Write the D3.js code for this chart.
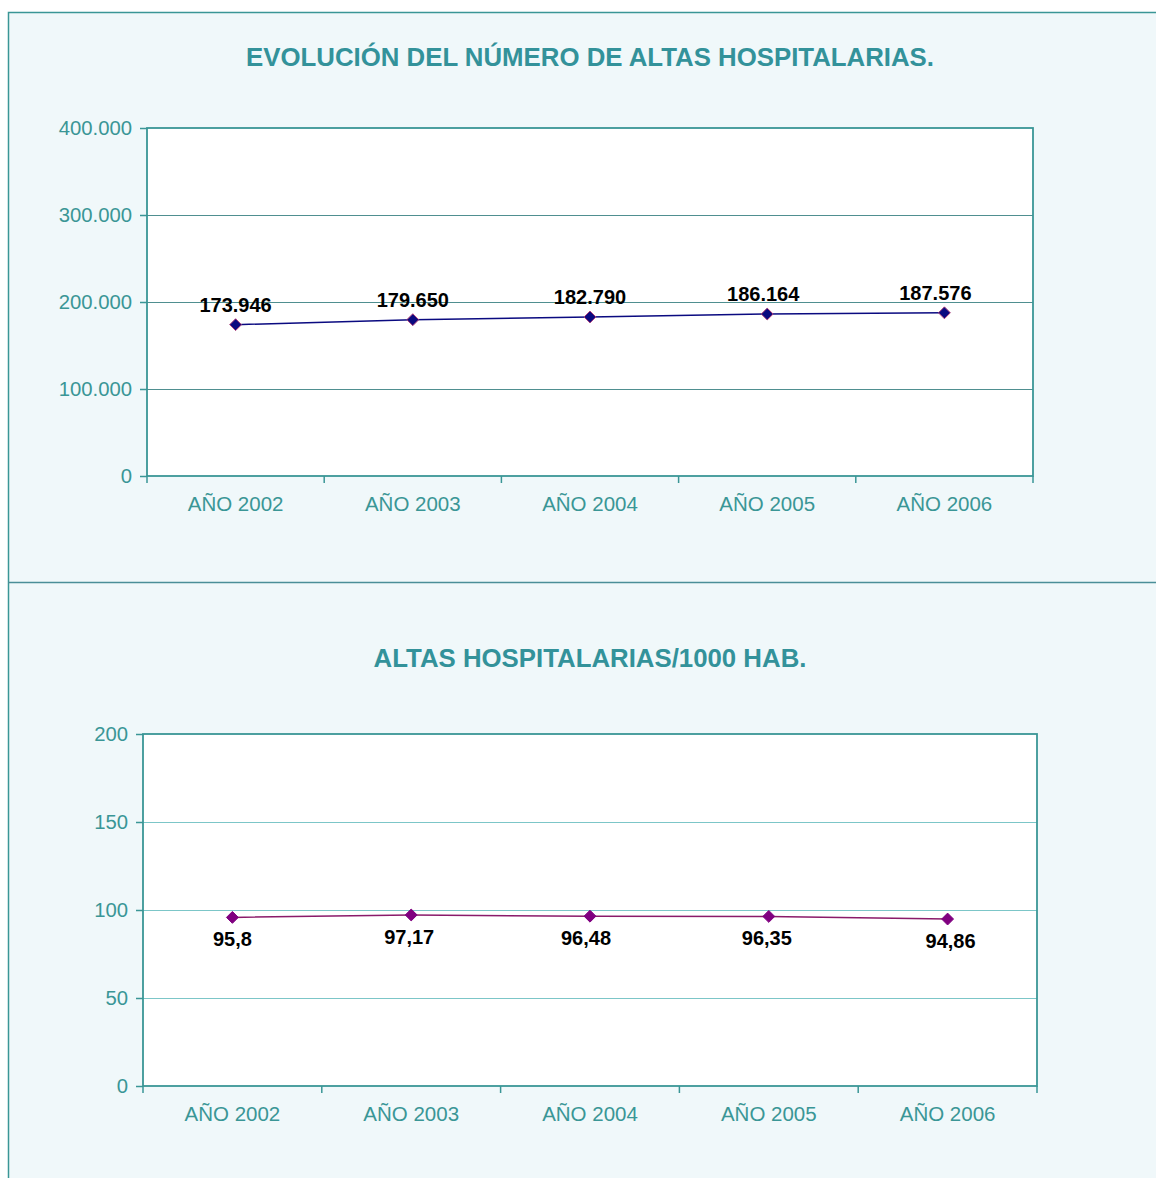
<!DOCTYPE html>
<html><head><meta charset="utf-8">
<script src="https://cdn.jsdelivr.net/npm/d3@7"></script>
<style>body{margin:0;background:#fff;}svg{display:block;font-family:"Liberation Sans",Arial,sans-serif;}</style>
</head><body>
<svg id="c" width="1156" height="1178"></svg>
<script>
const categories = ["AÑO 2002","AÑO 2003","AÑO 2004","AÑO 2005","AÑO 2006"];
const altas = [173946,179650,182790,186164,187576];
const altasPorMil = [95.8,97.17,96.48,96.35,94.86];
const ticks1 = [0,100000,200000,300000,400000];
const ticks2 = [0,50,100,150,200];
const title1 = "EVOLUCIÓN DEL NÚMERO DE ALTAS HOSPITALARIAS.";
const title2 = "ALTAS HOSPITALARIAS/1000 HAB.";

const es = d3.formatLocale({decimal:",",thousands:".",grouping:[3],currency:["","€"]});
const fmtThousands = es.format(",d");
const fmtDec = v => String(v).replace(".", ",");

const teal = "#3a9696";
const titleColor = "#33929a";
const svg = d3.select("#c");

// panels
svg.append("rect").attr("x",8.5).attr("y",12.5).attr("width",1160).attr("height",1180)
  .attr("fill","#f0f8fa").attr("stroke",teal).attr("stroke-width",1.5);
svg.append("line").attr("x1",8).attr("x2",1156).attr("y1",582.5).attr("y2",582.5)
  .attr("stroke","#4a8e98").attr("stroke-width",1.5);

function chart(o){
  const g = svg.append("g");
  const x = d3.scaleBand().domain(categories).range([o.x0,o.x1]);
  const y = d3.scaleLinear().domain([0,o.max]).range([o.y1,o.y0]);
  g.append("text").attr("x",590).attr("y",o.titleY).attr("text-anchor","middle")
    .attr("font-size",25.8).attr("font-weight","bold").attr("fill",titleColor).text(o.title);
  g.append("rect").attr("x",o.x0).attr("y",o.y0).attr("width",o.x1-o.x0).attr("height",o.y1-o.y0).attr("fill","#fff");
  // grid
  g.selectAll(".gr").data(o.ticks.slice(1,-1)).join("line")
    .attr("x1",o.x0).attr("x2",o.x1).attr("y1",d=>Math.round(y(d))+0.5).attr("y2",d=>Math.round(y(d))+0.5)
    .attr("stroke",o.grid).attr("stroke-width",1);
  // y axis
  const ya = g.append("g").attr("transform",`translate(${o.x0},0)`)
    .call(d3.axisLeft(y).tickValues(o.ticks).tickFormat(o.tickFmt).tickSize(7).tickPadding(8));
  ya.select(".domain").remove();
  ya.selectAll("line").attr("stroke",teal).attr("stroke-width",1.5);
  ya.selectAll("text").attr("fill",teal).attr("font-size",20.3).attr("font-family","Liberation Sans, Arial, sans-serif");
  // x axis
  const xa = g.append("g").attr("transform",`translate(0,${o.y1})`)
    .call(d3.axisBottom(x).tickSize(0).tickPadding(20));
  xa.select(".domain").remove();
  xa.selectAll("text").attr("fill",teal).attr("font-size",20.5).attr("font-family","Liberation Sans, Arial, sans-serif");
  const bounds = categories.map(c=>x(c)).concat([o.x1]);
  g.selectAll(".xt").data(bounds).join("line")
    .attr("x1",d=>d).attr("x2",d=>d).attr("y1",o.y1).attr("y2",o.y1+7)
    .attr("stroke",teal).attr("stroke-width",1.5);
  // frame
  g.append("rect").attr("x",o.x0).attr("y",o.y0).attr("width",o.x1-o.x0).attr("height",o.y1-o.y0)
    .attr("fill","none").attr("stroke",teal).attr("stroke-width",1.8);
  // line
  const cx = c => x(c)+x.bandwidth()/2;
  const pts = categories.map((c,i)=>[cx(c),y(o.values[i])]);
  g.append("path").attr("d",d3.line()(pts)).attr("fill","none").attr("stroke",o.lineColor).attr("stroke-width",1.5);
  const sym = d3.symbol().type(d3.symbolDiamond2).size(90);
  g.selectAll(".pt").data(pts).join("path").attr("d",sym)
    .attr("transform",d=>`translate(${d[0]},${d[1]})`)
    .attr("fill",o.markFill).attr("stroke",o.markStroke).attr("stroke-width",1);
  g.selectAll(".lb").data(o.values).join("text")
    .attr("x",(d,i)=>pts[i][0]+o.lblDx[i]).attr("y",(d,i)=>pts[i][1]+o.lblDy)
    .attr("text-anchor","middle").attr("font-size",20).attr("font-weight","bold").attr("fill","#000")
    .text(o.lblFmt);
}

chart({x0:147,x1:1033,y0:128,y1:476,max:400000,ticks:ticks1,values:altas,title:title1,titleY:66,
  tickFmt:d=>d===0?"0":fmtThousands(d),grid:"#4f8f90",lineColor:"#0a0a80",markFill:"#0a0a80",markStroke:"#b0407a",
  lblDx:[0,0,0,-4,-9],lblDy:-13,lblFmt:fmtThousands});
chart({x0:143,x1:1037,y0:734,y1:1086,max:200,ticks:ticks2,values:altasPorMil,title:title2,titleY:667,
  tickFmt:d=>String(d),grid:"#7cc6c8",lineColor:"#8a1a6a",markFill:"#800080",markStroke:"#800080",
  lblDx:[0,-2,-4,-2,3],lblDy:29,lblFmt:fmtDec});
</script>
</body></html>
